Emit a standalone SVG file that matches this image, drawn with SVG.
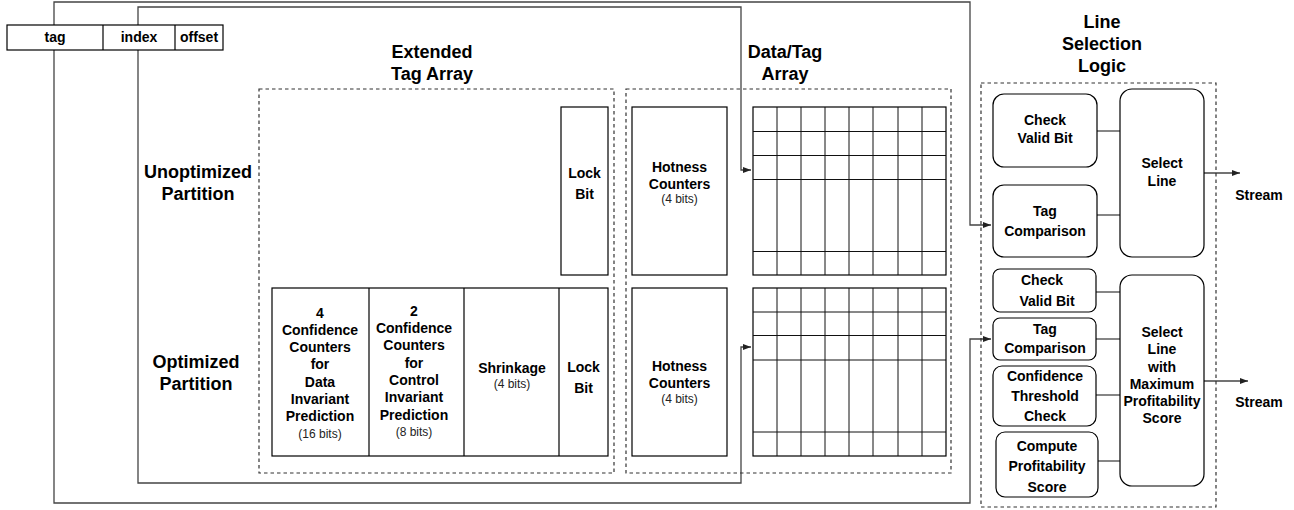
<svg xmlns="http://www.w3.org/2000/svg" width="1294" height="510" viewBox="0 0 1294 510">
<defs>
<marker id="ah" markerWidth="8" markerHeight="6" refX="8" refY="3" orient="auto" markerUnits="userSpaceOnUse"><path d="M0,0 L8,3 L0,6 z" fill="#222"/></marker>
<style>
text{font-family:"Liberation Sans",Arial,sans-serif;fill:#000;text-anchor:middle}
.b{font-weight:bold;font-size:14px}
.t{font-weight:bold;font-size:18px}
.s{font-size:12px;fill:#222}
.box{fill:#fff;stroke:#000;stroke-width:1.2}
.dash{fill:none;stroke:#333;stroke-width:1.2;stroke-dasharray:3.5 3}
.conn{fill:none;stroke:#444;stroke-width:1.3}
.grid line{stroke:#111;stroke-width:1}
</style>
</defs>
<rect width="1294" height="510" fill="#fff"/>

<g id="connectors">
<path class="conn" d="M54,25 V2 H970 V225 H991" marker-end="url(#ah)"/>
<path class="conn" d="M54,50 V503 H970 V339 H991" marker-end="url(#ah)"/>
<path class="conn" d="M138,25 V7 H741 V170 H751" marker-end="url(#ah)"/>
<path class="conn" d="M138,50 V483 H741 V347 H751" marker-end="url(#ah)"/>
<line class="conn" x1="1097" y1="131" x2="1120" y2="131"/>
<line class="conn" x1="1097" y1="215" x2="1120" y2="215"/>
<path class="conn" d="M1204,173 H1240" marker-end="url(#ah)"/>
<line class="conn" x1="1096" y1="292" x2="1120" y2="292"/>
<line class="conn" x1="1096" y1="339" x2="1120" y2="339"/>
<line class="conn" x1="1096" y1="395" x2="1120" y2="395"/>
<line class="conn" x1="1098" y1="461" x2="1120" y2="461"/>
<path class="conn" d="M1204,381 H1248" marker-end="url(#ah)"/>
</g>

<g id="address">
<rect class="box" x="7" y="25" width="216" height="25"/>
<line x1="103" y1="25" x2="103" y2="50" stroke="#000" stroke-width="1.2"/>
<line x1="175" y1="25" x2="175" y2="50" stroke="#000" stroke-width="1.2"/>
<text class="b" x="55" y="42">tag</text>
<text class="b" x="139" y="42">index</text>
<text class="b" x="199" y="42">offset</text>
</g>

<g id="labels">
<text class="t" x="432" y="58">Extended</text>
<text class="t" x="432" y="80">Tag Array</text>
<text class="t" x="785" y="58">Data/Tag</text>
<text class="t" x="785" y="80">Array</text>
<text class="t" x="1102" y="28">Line</text>
<text class="t" x="1102" y="50">Selection</text>
<text class="t" x="1102" y="72">Logic</text>
<text class="t" x="198" y="178">Unoptimized</text>
<text class="t" x="198" y="200">Partition</text>
<text class="t" x="196" y="368">Optimized</text>
<text class="t" x="196" y="390">Partition</text>
</g>

<g id="extended-tag-array">
<rect class="dash" x="259" y="89" width="355" height="384"/>
<g id="lock-top">
<rect class="box" x="561" y="107" width="47" height="168"/>
<text class="b" x="584.5" y="178">Lock</text>
<text class="b" x="584.5" y="199">Bit</text>
</g>
<g id="opt-row">
<rect class="box" x="272" y="288" width="336" height="168"/>
<line x1="369" y1="288" x2="369" y2="456" stroke="#000" stroke-width="1.2"/>
<line x1="464" y1="288" x2="464" y2="456" stroke="#000" stroke-width="1.2"/>
<line x1="559" y1="288" x2="559" y2="456" stroke="#000" stroke-width="1.2"/>
<text class="b" x="320" y="318">4</text>
<text class="b" x="320" y="335">Confidence</text>
<text class="b" x="320" y="352">Counters</text>
<text class="b" x="320" y="369">for</text>
<text class="b" x="320" y="387">Data</text>
<text class="b" x="320" y="404">Invariant</text>
<text class="b" x="320" y="421">Prediction</text>
<text class="s" x="320" y="438">(16 bits)</text>
<text class="b" x="414" y="316">2</text>
<text class="b" x="414" y="333">Confidence</text>
<text class="b" x="414" y="350">Counters</text>
<text class="b" x="414" y="368">for</text>
<text class="b" x="414" y="385">Control</text>
<text class="b" x="414" y="402">Invariant</text>
<text class="b" x="414" y="420">Prediction</text>
<text class="s" x="414" y="436">(8 bits)</text>
<text class="b" x="512" y="373">Shrinkage</text>
<text class="s" x="512" y="388">(4 bits)</text>
<text class="b" x="583.5" y="372">Lock</text>
<text class="b" x="583.5" y="393">Bit</text>
</g>
</g>

<g id="data-tag-array">
<rect class="dash" x="626" y="89" width="325" height="384"/>
<g id="hot-top">
<rect class="box" x="632" y="107" width="95" height="168"/>
<text class="b" x="679.5" y="172">Hotness</text>
<text class="b" x="679.5" y="189">Counters</text>
<text class="s" x="679.5" y="203">(4 bits)</text>
</g>
<g id="hot-bottom">
<rect class="box" x="632" y="288" width="95" height="168"/>
<text class="b" x="679.5" y="371">Hotness</text>
<text class="b" x="679.5" y="388">Counters</text>
<text class="s" x="679.5" y="403">(4 bits)</text>
</g>
<g id="grid-top" class="grid">
<rect class="box" x="753" y="107" width="193" height="168"/>
<line x1="777" y1="107" x2="777" y2="275"/><line x1="801" y1="107" x2="801" y2="275"/><line x1="825" y1="107" x2="825" y2="275"/><line x1="849" y1="107" x2="849" y2="275"/><line x1="873" y1="107" x2="873" y2="275"/><line x1="898" y1="107" x2="898" y2="275"/><line x1="922" y1="107" x2="922" y2="275"/>
<line x1="753" y1="131.5" x2="946" y2="131.5"/><line x1="753" y1="155.5" x2="946" y2="155.5"/><line x1="753" y1="179.5" x2="946" y2="179.5"/><line x1="753" y1="251.5" x2="946" y2="251.5"/>
</g>
<g id="grid-bottom" class="grid">
<rect class="box" x="753" y="288" width="193" height="168"/>
<line x1="777" y1="288" x2="777" y2="456"/><line x1="801" y1="288" x2="801" y2="456"/><line x1="825" y1="288" x2="825" y2="456"/><line x1="849" y1="288" x2="849" y2="456"/><line x1="873" y1="288" x2="873" y2="456"/><line x1="898" y1="288" x2="898" y2="456"/><line x1="922" y1="288" x2="922" y2="456"/>
<line x1="753" y1="312" x2="946" y2="312"/><line x1="753" y1="335.5" x2="946" y2="335.5"/><line x1="753" y1="360" x2="946" y2="360"/><line x1="753" y1="432" x2="946" y2="432"/>
</g>
</g>

<g id="line-selection-logic">
<rect class="dash" x="981" y="83" width="235" height="424"/>
<g id="cvb1"><rect class="box" x="993" y="94" width="104" height="73" rx="11"/>
<text class="b" x="1045" y="125">Check</text><text class="b" x="1045" y="143">Valid Bit</text></g>
<g id="tc1"><rect class="box" x="993" y="185" width="104" height="72" rx="11"/>
<text class="b" x="1045" y="216">Tag</text><text class="b" x="1045" y="236">Comparison</text></g>
<g id="sel1"><rect class="box" x="1120" y="89" width="84" height="168" rx="12"/>
<text class="b" x="1162" y="168">Select</text><text class="b" x="1162" y="186">Line</text></g>
<text class="b" x="1259" y="200">Stream</text>

<g id="cvb2"><rect class="box" x="993" y="269" width="103" height="43" rx="7"/>
<text class="b" x="1042" y="285">Check</text><text class="b" x="1047" y="306">Valid Bit</text></g>
<g id="tc2"><rect class="box" x="993" y="318" width="103" height="42" rx="7"/>
<text class="b" x="1045" y="334">Tag</text><text class="b" x="1045" y="353">Comparison</text></g>
<g id="cth"><rect class="box" x="993" y="366" width="103" height="60" rx="9"/>
<text class="b" x="1045" y="381">Confidence</text><text class="b" x="1045" y="401">Threshold</text><text class="b" x="1045" y="421">Check</text></g>
<g id="cps"><rect class="box" x="996" y="432" width="102" height="65" rx="9"/>
<text class="b" x="1047" y="451">Compute</text><text class="b" x="1047" y="471">Profitability</text><text class="b" x="1047" y="492">Score</text></g>
<g id="sel2"><rect class="box" x="1120" y="275" width="84" height="211" rx="12"/>
<text class="b" x="1162" y="337">Select</text><text class="b" x="1162" y="354">Line</text><text class="b" x="1162" y="372">with</text><text class="b" x="1162" y="389">Maximum</text><text class="b" x="1162" y="406">Profitability</text><text class="b" x="1162" y="423">Score</text></g>
<text class="b" x="1259" y="407">Stream</text>
</g>
</svg>
